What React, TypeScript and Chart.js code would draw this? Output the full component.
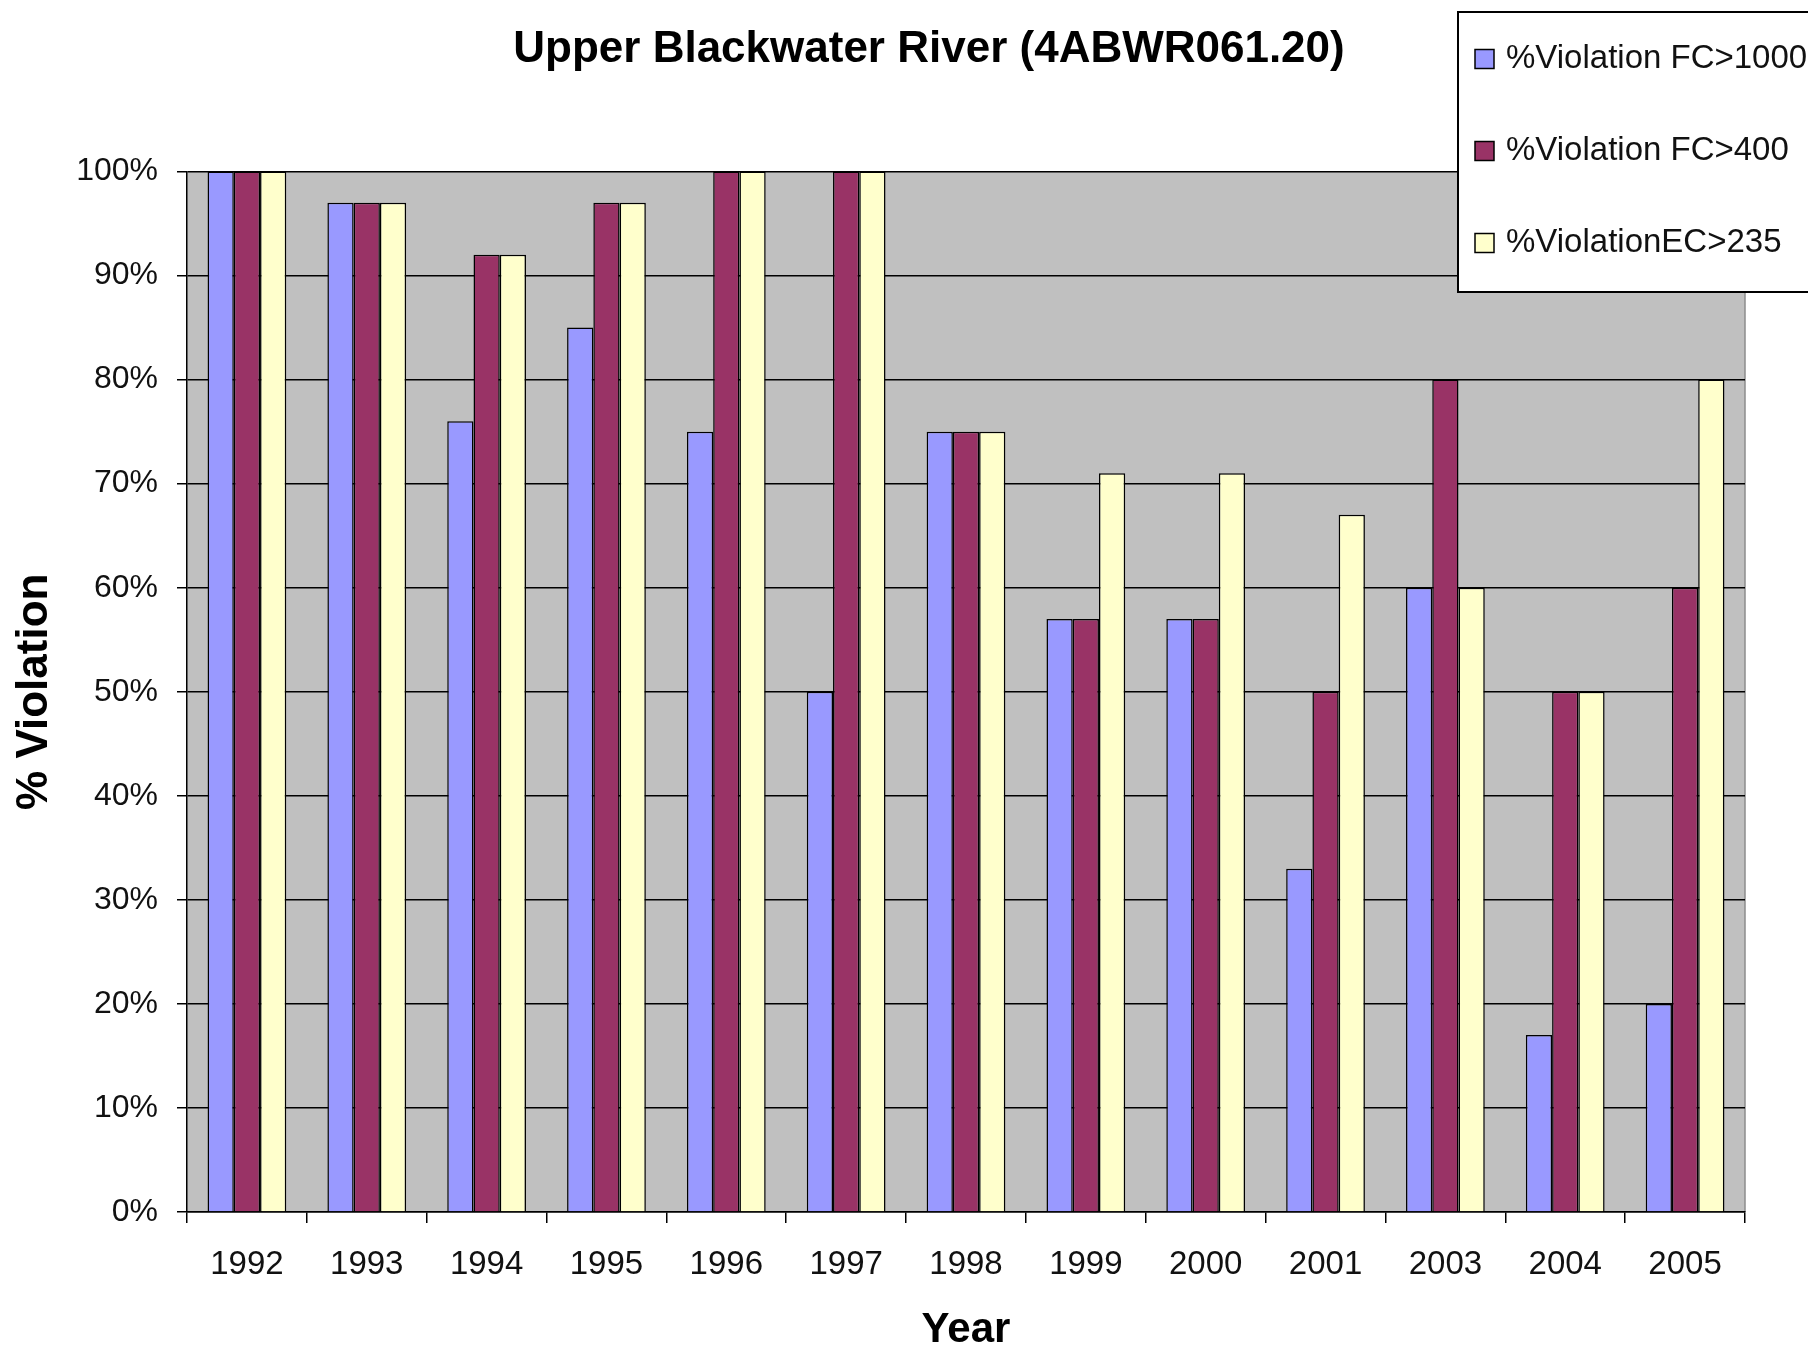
import React, { useEffect, useRef } from 'react';
import { Chart, registerables } from 'chart.js';

Chart.register(...registerables);

const years = ['1992', '1993', '1994', '1995', '1996', '1997', '1998', '1999', '2000', '2001', '2003', '2004', '2005'];
const fc1000 = [100, 97, 76, 85, 75, 50, 75, 57, 57, 33, 60, 17, 20];
const fc400 = [100, 97, 92, 97, 100, 100, 75, 57, 57, 50, 80, 50, 60];
const ec235 = [100, 97, 92, 97, 100, 100, 75, 71, 71, 67, 60, 50, 80];
const seriesLabels = ['%Violation FC>1000', '%Violation FC>400', '%ViolationEC>235'];
const seriesColors = ['#9999FF', '#993366', '#FFFFCC'];
const chartTitle = 'Upper Blackwater River (4ABWR061.20)';
const yAxisTitle = '% Violation';
const xAxisTitle = 'Year';

const FONT = "'Liberation Sans', Arial, sans-serif";

const decorPlugin = {
  id: 'decor',
  beforeDraw(chart: any) {
    const { ctx, chartArea } = chart;
    ctx.save();
    ctx.fillStyle = '#C0C0C0';
    ctx.fillRect(chartArea.left, chartArea.top, chartArea.right - chartArea.left, chartArea.bottom - chartArea.top);
    ctx.strokeStyle = '#8c8c8c';
    ctx.lineWidth = 1.5;
    ctx.beginPath();
    ctx.moveTo(chartArea.right, chartArea.top);
    ctx.lineTo(chartArea.right, chartArea.bottom);
    ctx.stroke();
    ctx.restore();
  },
  afterDraw(chart: any) {
    const { ctx } = chart;
    ctx.save();
    // title
    ctx.fillStyle = '#000';
    ctx.font = `bold 44px ${FONT}`;
    ctx.textAlign = 'center';
    ctx.textBaseline = 'middle';
    ctx.fillText(chartTitle, 921, 42);
    // legend box
    ctx.fillStyle = '#fff';
    ctx.fillRect(1450, 4, 400, 280);
    ctx.strokeStyle = '#000';
    ctx.lineWidth = 2;
    ctx.strokeRect(1450, 4, 400, 280);
    const rows = [51, 143, 235];
    ctx.font = `33px ${FONT}`;
    ctx.textAlign = 'left';
    chart.data.datasets.forEach((ds: any, i: number) => {
      const cy = rows[i];
      ctx.fillStyle = ds.backgroundColor;
      ctx.fillRect(1467, cy - 9.5, 19, 19);
      ctx.lineWidth = 1.5;
      ctx.strokeStyle = '#000';
      ctx.strokeRect(1467, cy - 9.5, 19, 19);
      ctx.fillStyle = '#111';
      ctx.fillText(ds.label, 1498, cy);
    });
    ctx.restore();
  },
};

export default function App() {
  const ref = useRef<HTMLCanvasElement | null>(null);
  useEffect(() => {
    document.documentElement.style.overflow = 'hidden';
    const canvas = ref.current;
    if (!canvas) return;
    const data = [fc1000, fc400, ec235];
    const chart = new Chart(canvas, {
      type: 'bar',
      data: {
        labels: years,
        datasets: data.map((d, i) => ({
          label: seriesLabels[i],
          data: d,
          backgroundColor: seriesColors[i],
          borderColor: '#000',
          borderWidth: 1.5,
          categoryPercentage: 0.657,
          barPercentage: 1.0,
        })),
      },
      options: {
        responsive: false,
        animation: false,
        devicePixelRatio: 1,
        layout: { padding: { top: 163.5, right: 63, left: 0, bottom: 0 } },
        plugins: {
          legend: { display: false },
          title: { display: false },
          tooltip: { enabled: false },
        },
        scales: {
          x: {
            offset: true,
            grid: {
              drawOnChartArea: false,
              drawTicks: true,
              tickLength: 11,
              color: '#000',
              lineWidth: 1.5,
              offset: true,
            },
            border: { color: '#000', width: 1.5 },
            ticks: {
              color: '#111',
              padding: 22,
              font: { family: FONT, size: 33 },
              maxRotation: 0,
              autoSkip: false,
            },
            title: {
              display: true,
              text: xAxisTitle,
              color: '#000',
              font: { family: FONT, size: 42, weight: 'bold', lineHeight: 1 },
              padding: { top: 0, bottom: 2 },
            },
            afterFit: (scale: any) => {
              scale.height = 141;
            },
          },
          y: {
            min: 0,
            max: 100,
            grid: {
              color: '#000',
              lineWidth: 1.5,
              tickLength: 10,
              drawTicks: true,
            },
            border: { color: '#000', width: 1.5 },
            ticks: {
              stepSize: 10,
              color: '#111',
              padding: 19,
              font: { family: FONT, size: 32 },
              callback: (v: any) => `${v}%`,
            },
            title: {
              display: true,
              text: yAxisTitle,
              color: '#000',
              font: { family: FONT, size: 44, weight: 'bold', lineHeight: 1 },
              padding: { top: 5, bottom: 0 },
            },
            afterFit: (scale: any) => {
              scale.width = 179;
            },
          },
        },
      },
      plugins: [decorPlugin],
    });
    return () => chart.destroy();
  }, []);
  return (
    <div style={{ width: 1800, height: 1345 }}>
      <canvas ref={ref} width={1800} height={1345} style={{ display: 'block', width: 1800, height: 1345 }} />
    </div>
  );
}
